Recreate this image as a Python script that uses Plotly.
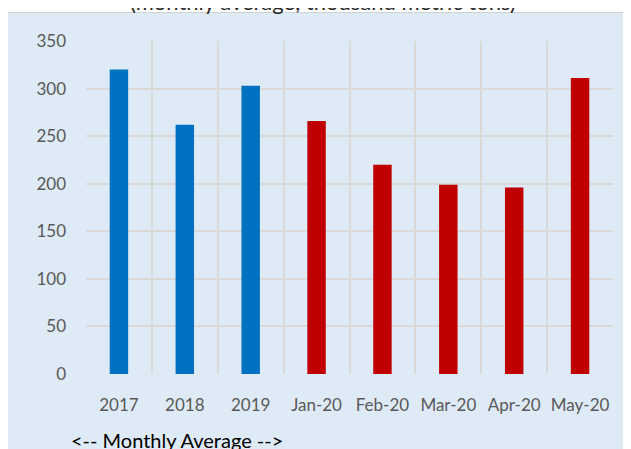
import plotly.graph_objects as go

categories = ["2017", "2018", "2019", "Jan-20", "Feb-20", "Mar-20", "Apr-20", "May-20"]
values = [320, 262, 303, 266, 220, 199, 196, 311]
colors = ["#0070C0"] * 3 + ["#C00000"] * 5
y_ticks = [0, 50, 100, 150, 200, 250, 300, 350]

W, H = 631, 449
OFF = 8  # page body margin offset
# plot area in screen pixels
L, R, T, B = 86, 613, 41, 374
pw, ph = R - L, B - T

def px_x(x):
    return (x - L) / pw

def px_y(y):
    return (B - y) / ph

fig = go.Figure(go.Bar(x=categories, y=values, marker=dict(color=colors, line=dict(width=0)), width=0.28))

bg = "#DEEAF6"
font = "Lato"

fig.update_layout(
    width=W, height=H,
    margin=dict(l=L - OFF, r=W - (R - OFF), t=T - OFF, b=H - (B - OFF), autoexpand=False),
    paper_bgcolor="white",
    plot_bgcolor=bg,
    showlegend=False,
    font=dict(family=font, size=17, color="#595959"),
    shapes=[dict(type="rect", xref="paper", yref="paper",
                 x0=px_x(7.5), x1=px_x(700), y0=px_y(500), y1=px_y(12.5),
                 fillcolor=bg, line=dict(color="#D0D0D0", width=1), layer="below")],
    annotations=[
        dict(text="(monthly average, thousand metric tons)", xref="paper", yref="paper",
             x=px_x(323), y=px_y(1), xanchor="center", yanchor="middle", showarrow=False,
             font=dict(family=font, size=22, color="#262626")),
        dict(text="<-- Monthly Average -->", xref="paper", yref="paper",
             x=px_x(69), y=px_y(440), xanchor="left", yanchor="middle", showarrow=False,
             font=dict(family=font, size=20, color="#000000")),
    ],
)
fig.update_xaxes(tickson="boundaries", showgrid=True, gridcolor="#D9D9D9", gridwidth=2,
                 ticks="", tickangle=0, automargin=False, ticklabelstandoff=19,
                 showline=False, zeroline=False)
fig.update_yaxes(range=[0, 350], tickvals=y_ticks, showgrid=True, gridcolor="#D9D9D9", gridwidth=2,
                 ticks="", ticklabelstandoff=19, automargin=False, zeroline=False, showline=False)

fig.write_html("out.html")
